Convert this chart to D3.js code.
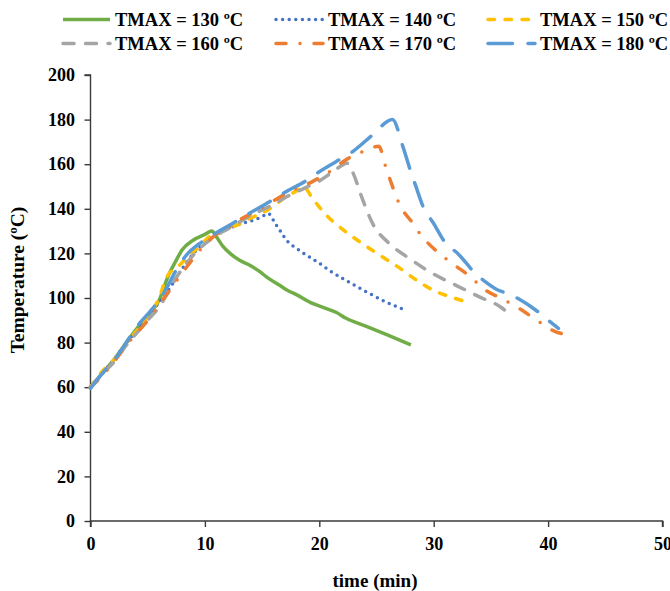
<!DOCTYPE html>
<html>
<head>
<meta charset="utf-8">
<script src="https://cdn.jsdelivr.net/npm/d3@7"></script>
<style>
  html, body { margin: 0; padding: 0; background: #fff; }
  svg { display: block; }
  text { font-family: "Liberation Serif", "Times New Roman", serif; font-weight: bold; fill: #000; }
</style>
</head>
<body>
<svg id="chart" width="670" height="591"></svg>
<script>
// ---- data ----
const seriesNames = ["TMAX = 130 ºC", "TMAX = 140 ºC", "TMAX = 150 ºC", "TMAX = 160 ºC", "TMAX = 170 ºC", "TMAX = 180 ºC"];

const time130 = [0, 1, 2, 3, 4, 5, 6, 6.8, 7.5, 8, 9, 10, 10.6, 11, 11.6, 12.2, 13, 14, 14.8, 15.5, 16.5, 17.2, 18, 19.4, 20.5, 21.5, 22.3, 24, 26, 28];
const temp130 = [60, 66, 72, 79, 86, 92, 99, 110, 117, 121.5, 126, 128.5, 130, 127.5, 123, 120, 117, 114.5, 111.8, 109, 105.8, 103.5, 101.5, 97.6, 95.5, 93.5, 91, 87.5, 83.3, 79];

const time140 = [0, 1, 2, 3, 4, 5, 6, 7, 8, 9, 10, 11, 12, 13, 14, 15, 15.5, 16.2, 16.6, 17.2, 17.8, 18.5, 20, 21, 22.3, 24.1, 25.8, 27.5];
const temp140 = [60, 66, 72, 79, 85, 92, 98, 105, 113, 120, 125, 129.5, 131, 133, 134.5, 136.5, 138, 133, 130, 125.5, 123, 120.5, 115.6, 112, 108, 102.8, 98.3, 94.6];

const time150 = [0, 1, 2, 3, 4, 5, 6, 6.6, 7.8, 8.7, 9.5, 10.5, 11.5, 12.5, 13.5, 14.5, 15.5, 16.2, 17.1, 18, 18.6, 19.4, 20.6, 21.75, 23.5, 25.2, 27, 28.5, 29.9, 31.9, 32.9];
const temp150 = [60, 67, 72, 79, 85, 92, 100, 108.8, 114.8, 119.3, 123, 128, 130, 132, 134.5, 137, 139.5, 142, 145.5, 148, 150, 144.7, 137.2, 132, 125.3, 119.5, 113.5, 108, 103.6, 99.8, 98.2];

const time160 = [0, 1, 2, 3, 4, 5, 6, 6.9, 7.6, 8.4, 9.3, 10.3, 11, 12, 13, 14, 15, 16, 17, 18, 19, 20, 21, 22, 22.4, 22.9, 23.8, 24.65, 26.1, 27.85, 29.9, 31.9, 33.95, 36, 36.4];
const temp160 = [60, 66, 71, 78, 84, 90, 96, 103.6, 110, 115.6, 121, 125.5, 128, 131, 134, 137, 139.5, 142, 145, 147.5, 150, 152.5, 156, 159.5, 160.5, 156.6, 144, 133.5, 124.5, 117.8, 111, 105.8, 100.6, 95.4, 93.7];

const time170 = [0, 1, 2, 3, 4, 5, 6, 7, 8.1, 9, 10, 11, 12, 13.2, 14.5, 16.2, 17.5, 19.4, 21, 22.3, 23.75, 25.2, 25.8, 26.35, 27.1, 28, 29, 30.3, 31.8, 33.1, 34.5, 36, 37.7, 39, 40.9, 41.2];
const temp170 = [60, 65, 71, 78, 84, 90, 97, 104, 111.8, 117.8, 124, 128.5, 131.5, 135.5, 139, 144.2, 148, 152.2, 157, 161.9, 165.6, 168, 158.9, 150.7, 141, 134.7, 127.5, 120.8, 114.8, 110, 103.6, 99.6, 94.6, 90.1, 84.4, 84];

const time180 = [0, 1, 2.3, 3.45, 4.3, 5.2, 6.2, 6.8, 7.5, 8.4, 9.55, 10.7, 12.45, 13.9, 15.65, 17.1, 18.85, 20, 21.46, 22.9, 24.65, 26.4, 27.3, 28, 28.4, 29.2, 29.9, 31.05, 32.1, 33.5, 34.5, 35.6, 36.4, 37.6, 39.3, 40.35, 40.9];
const temp180 = [59.5, 66, 73.7, 82.6, 88.7, 93.9, 100.6, 105.8, 112.6, 119.3, 124.5, 128.3, 133.5, 138, 143.2, 147.7, 152.6, 156.6, 161.1, 165.6, 173.1, 180.1, 168, 156.6, 150.7, 139.5, 134.2, 124.5, 120, 111.8, 107.3, 103.6, 102.1, 99.1, 93.1, 88.6, 86.4];

const xTicks = [0, 10, 20, 30, 40, 50];
const yTicks = [0, 20, 40, 60, 80, 100, 120, 140, 160, 180, 200];

// ---- styles ----
const colors = ["#70AD47", "#4472C4", "#FFC000", "#A5A5A5", "#ED7D31", "#5B9BD5"];
const dashes = [null, "0 6.6", "6.5 10.5", "11 11.5", "10 14 0 14", "24.5 15.5"];

const timeData = [time130, time140, time150, time160, time170, time180];
const tempData = [temp130, temp140, temp150, temp160, temp170, temp180];
const series = seriesNames.map((name, i) => ({
  name, color: colors[i], dash: dashes[i],
  values: timeData[i].map((t, j) => ({ t, T: tempData[i][j] }))
}));

const svg = d3.select("#chart");
const x = d3.scaleLinear().domain([0, 50]).range([90.5, 662.5]);
const y = d3.scaleLinear().domain([0, 200]).range([521, 75]);

// axes
const axisColor = "#3a3a3a";
const yAxis = svg.append("g").attr("transform", `translate(${x(0)},0)`)
  .call(d3.axisLeft(y).tickValues(yTicks).tickSize(6).tickPadding(9.5).tickFormat(d3.format("d")));
const xAxis = svg.append("g").attr("transform", `translate(0,${y(0)})`)
  .call(d3.axisBottom(x).tickValues(xTicks).tickSize(6).tickPadding(10.5).tickFormat(d3.format("d")));
[xAxis, yAxis].forEach(a => {
  a.select(".domain").attr("stroke", axisColor).attr("stroke-width", 1.4);
  a.selectAll(".tick line").attr("stroke", axisColor).attr("stroke-width", 1.4);
  a.selectAll(".tick text").style("font-size", "18px").style("font-family", "Liberation Serif").style("font-weight", "bold").attr("fill", "#000");
});
yAxis.select(".domain").attr("d", `M-6,${y(200)}H0V${y(0)}`);
xAxis.select(".domain").attr("d", `M${x(0)},6V0H${x(50)}V6`);

// lines
const line = d3.line().x(d => x(d.t)).y(d => y(d.T)).curve(d3.curveMonotoneX);
svg.append("g").selectAll("path").data(series).join("path")
  .attr("d", d => line(d.values))
  .attr("fill", "none")
  .attr("stroke", d => d.color)
  .attr("stroke-width", 3.5)
  .attr("stroke-linecap", d => d.dash ? "round" : "butt")
  .attr("stroke-linejoin", "round")
  .attr("stroke-dasharray", d => d.dash);

// axis titles
svg.append("text").attr("x", 375).attr("y", 587).attr("text-anchor", "middle")
  .style("font-size", "19px").text("time (min)");
svg.append("text").attr("transform", "translate(24,280) rotate(-90)").attr("text-anchor", "middle")
  .style("font-size", "19.5px").text("Temperature (ºC)");

// legend
const legX = [62, 275, 487];
const legY = [19.5, 43.5];
const leg = svg.append("g").selectAll("g").data(series).join("g")
  .attr("transform", (d, i) => `translate(${legX[i % 3]},${legY[Math.floor(i / 3)]})`);
leg.append("line").attr("x1", 1).attr("x2", 48).attr("y1", 0).attr("y2", 0)
  .attr("stroke", d => d.color).attr("stroke-width", 3.5)
  .attr("stroke-linecap", d => d.dash ? "round" : "butt")
  .attr("stroke-dasharray", d => d.dash);
leg.append("text").attr("x", 53).attr("y", 6.5).style("font-size", "18.5px").text(d => d.name);
</script>
</body>
</html>
